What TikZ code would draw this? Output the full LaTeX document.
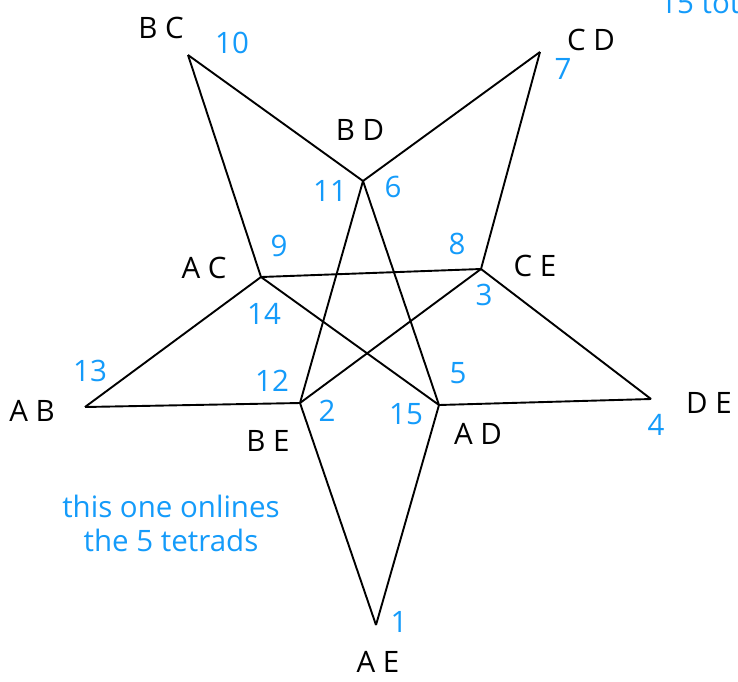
\documentclass[tikz,border=0pt]{standalone}
\usepackage{fontspec}
\setmainfont{Open Sans}
\usetikzlibrary{positioning}
\definecolor{numblue}{RGB}{20,155,250}

\begin{document}
\begin{tikzpicture}[
  x=1pt, y=-1pt,
  edge/.style={line width=1.9pt, line join=round},
  pair/.style={font=\fontsize{29.5}{34}\selectfont, text=black},
  num/.style={font=\fontsize{29.5}{34}\selectfont, text=numblue},
  every node/.style={inner sep=0pt}
]
\useasboundingbox (0,0) rectangle (738,681);
\clip (0,0) rectangle (738,681);

% vertices of the star
\coordinate (bc) at (188,55);
\coordinate (cd) at (540,52);
\coordinate (bd) at (363,181);
\coordinate (ac) at (261,277);
\coordinate (ce) at (481,269);
\coordinate (ab) at (85,407);
\coordinate (be) at (300,403);
\coordinate (ad) at (439,405);
\coordinate (de) at (651,399);
\coordinate (ae) at (376,625);

\draw[edge] (bc) -- (bd);
\draw[edge] (bd) -- (cd);
\draw[edge] (bc) -- (ac);
\draw[edge] (cd) -- (ce);
\draw[edge] (ac) -- (ce);
\draw[edge] (ac) -- (ab);
\draw[edge] (ab) -- (be);
\draw[edge] (ac) -- (ad);
\draw[edge] (be) -- (ce);
\draw[edge] (bd) -- (be);
\draw[edge] (bd) -- (ad);
\draw[edge] (ce) -- (de);
\draw[edge] (ad) -- (de);
\draw[edge] (be) -- (ae);
\draw[edge] (ad) -- (ae);

% pair labels
\node[pair] (lbc) at (161,28) {B C};
\node[pair] (lcd) at (591,40) {C D};
\node[pair] (lbd) at (360,130) {B D};
\node[pair] (lac) at (204,268) {A C};
\node[pair] (lce) at (535,266) {C E};
\node[pair] (lab) at (32,411) {A B};
\node[pair] (lbe) at (268,441) {B E};
\node[pair] (lad) at (478,434) {A D};
\node[pair] (lde) at (709,403) {D E};
\node[pair] (lae) at (378,662) {A E};

% numbering
\node[num] (n1) at (399,622) {1};
\node[num] (n2) at (327,411) {2};
\node[num] (n3) at (484,295) {3};
\node[num] (n4) at (656,425) {4};
\node[num] (n5) at (458,373) {5};
\node[num] (n6) at (393,187) {6};
\node[num] (n7) at (563,69) {7};
\node[num] (n8) at (457,244) {8};
\node[num] (n9) at (279,246) {9};
\node[num] (n10) at (232,43) {10};
\node[num] (n11) at (330,191) {11};
\node[num] (n12) at (272,381) {12};
\node[num] (n13) at (90,371) {13};
\node[num] (n14) at (264,314) {14};
\node[num] (n15) at (406,414) {15};

% notes
\node[num, align=center] (note) at (171,523) {this one onlines\\the 5 tetrads};
\node[num, anchor=base west] (top) at (660,13) {15 total};
\end{tikzpicture}
\end{document}
